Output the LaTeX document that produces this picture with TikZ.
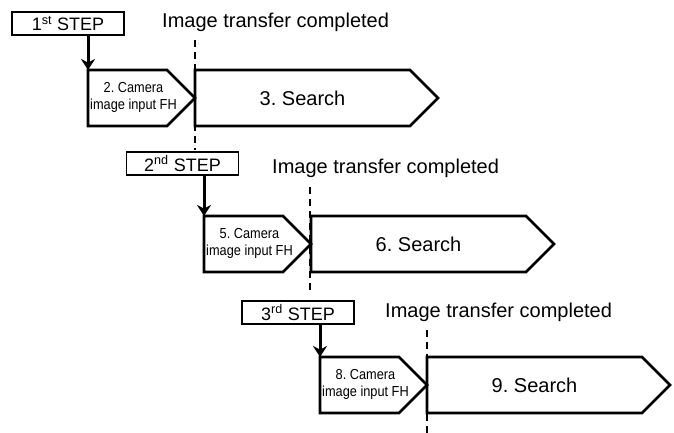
\documentclass[tikz,border=0pt]{standalone}
\usepackage{fontspec}
\setmainfont{Liberation Sans}
\newfontfamily\narrowsans[FakeStretch=0.88]{Liberation Sans}
\usetikzlibrary{positioning,arrows.meta,shapes.symbols}
% two lines of the camera box, set in a fixed width
\newcommand{\camlines}[2]{\makebox[72pt]{\hspace{12pt}%
  \begin{tabular}{@{}c@{}}#1\\#2\end{tabular}}}

\begin{document}
\frenchspacing
\begin{tikzpicture}[x=1pt,y=-1pt,
            stepbox/.style={rectangle,draw,line width=1.1pt,
                        minimum width=112pt,minimum height=23pt,
                        inner sep=0pt,font=\fontsize{18}{20}\selectfont},
            cambox/.style={signal,signal to=east,signal pointer angle=90,
                        draw,line width=2.7pt,anchor=west,
                        minimum width=107pt,minimum height=56pt,
                        inner sep=0pt,outer sep=0pt,
                        font=\narrowsans\fontsize{14.5}{17}\selectfont},
            srchbox/.style={cambox,minimum width=243pt,
                        font=\fontsize{20}{24}\selectfont},
            note/.style={anchor=base west,inner sep=0pt,
                        font=\fontsize{20}{24}\selectfont},
            cut/.style={dash pattern=on 7pt off 5pt,line width=1.8pt},
            arr/.style={-{Stealth[length=11pt,width=14pt]},line width=3pt}]
            \useasboundingbox (0,0) rectangle (674,433);
            % 1st step
            \node[stepbox] (step1) at (68,23.5) {1\textsuperscript{st} STEP};
            \node[note] (done1) at (162,28) {Image transfer completed};
            \node[cambox] (cam1) at (88,98) {\camlines{2. Camera}{image input FH}};
            \node[srchbox] (srch1) at (cam1.east) {3. Search};
            \coordinate (cut1a) at (195,40);
            \coordinate (cut1b) at (195,150);
            \draw[cut] (cut1a)--(cut1b);
            \draw[arr] (step1.south -| cam1.west)--(cam1.west |- cam1.north);
            % 2nd step
            \node[stepbox] (step2) at (182.5,163.5) {2\textsuperscript{nd} STEP};
            \node[note] (done2) at (272,173) {Image transfer completed};
            \node[cambox] (cam2) at (204,244) {\camlines{5. Camera}{image input FH}};
            \node[srchbox] (srch2) at (cam2.east) {6. Search};
            \coordinate (cut2a) at (310,187);
            \coordinate (cut2b) at (310,290);
            \draw[cut] (cut2a)--(cut2b);
            \draw[arr] (step2.south -| cam2.west)--(cam2.west |- cam2.north);
            % 3rd step
            \node[stepbox] (step3) at (298,312.5) {3\textsuperscript{rd} STEP};
            \node[note] (done3) at (385,317) {Image transfer completed};
            \node[cambox] (cam3) at (320,385) {\camlines{8. Camera}{image input FH}};
            \node[srchbox] (srch3) at (cam3.east) {9. Search};
            \coordinate (cut3a) at (427,330);
            \coordinate (cut3b) at (427,433);
            \draw[cut] (cut3a)--(cut3b);
            \draw[arr] (step3.south -| cam3.west)--(cam3.west |- cam3.north);
        \end{tikzpicture}
\end{document}
